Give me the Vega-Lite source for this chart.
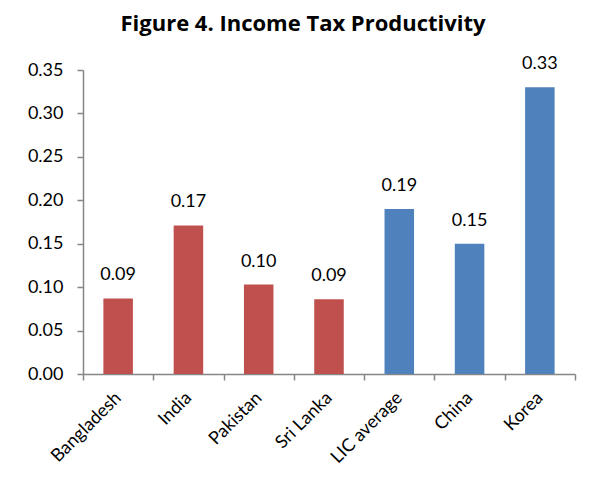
{
  "$schema": "https://vega.github.io/schema/vega-lite/v6.json",
  "autosize": {"type": "none"},
  "width": 492,
  "height": 304,
  "padding": {"left": 83, "top": 70, "right": 26, "bottom": 115},
  "background": "white",
  "title": {
    "text": "Figure 4. Income Tax Productivity",
    "font": "Open Sans",
    "fontSize": 22,
    "fontWeight": "bold",
    "color": "#000000",
    "anchor": "middle",
    "dx": -26,
    "offset": 19
  },
  "data": {
    "values": [
      {"country": "Bangladesh", "value": 0.087, "group": "South Asia"},
      {"country": "India", "value": 0.171, "group": "South Asia"},
      {"country": "Pakistan", "value": 0.103, "group": "South Asia"},
      {"country": "Sri Lanka", "value": 0.086, "group": "South Asia"},
      {"country": "LIC average", "value": 0.19, "group": "Comparator"},
      {"country": "China", "value": 0.15, "group": "Comparator"},
      {"country": "Korea", "value": 0.33, "group": "Comparator"}
    ]
  },
  "encoding": {
    "x": {
      "field": "country",
      "type": "nominal",
      "sort": null,
      "scale": {"paddingInner": 0, "paddingOuter": 0},
      "axis": {
        "title": null,
        "labelAngle": -45,
        "labelAlign": "right",
        "labelBaseline": "middle",
        "labelFont": "Lato",
        "labelFontSize": 18,
        "labelColor": "#000000",
        "labelPadding": 15,
        "tickBand": "extent",
        "tickSize": 6,
        "tickColor": "#868686",
        "tickWidth": 1.5,
        "domainColor": "#868686",
        "domainWidth": 1.5
      }
    },
    "y": {
      "field": "value",
      "type": "quantitative",
      "scale": {"domain": [0, 0.35], "nice": false},
      "axis": {
        "title": null,
        "values": [0, 0.05, 0.1, 0.15, 0.2, 0.25, 0.3, 0.35],
        "format": ".2f",
        "grid": false,
        "labelFont": "Lato",
        "labelFontSize": 18,
        "labelColor": "#000000",
        "labelPadding": 14,
        "tickSize": 6,
        "tickColor": "#868686",
        "tickWidth": 1.5,
        "domainColor": "#868686",
        "domainWidth": 1.5
      }
    }
  },
  "layer": [
    {
      "mark": {"type": "bar", "width": {"band": 0.42}},
      "encoding": {
        "color": {
          "field": "group",
          "type": "nominal",
          "scale": {"domain": ["South Asia", "Comparator"], "range": ["#C0504D", "#4F81BD"]},
          "legend": null
        }
      }
    },
    {
      "mark": {"type": "text", "baseline": "alphabetic", "dy": -18, "font": "Lato", "fontSize": 18, "color": "#000000"},
      "encoding": {
        "text": {"field": "value", "type": "quantitative", "format": ".2f"}
      }
    }
  ],
  "config": {"view": {"stroke": null}}
}
